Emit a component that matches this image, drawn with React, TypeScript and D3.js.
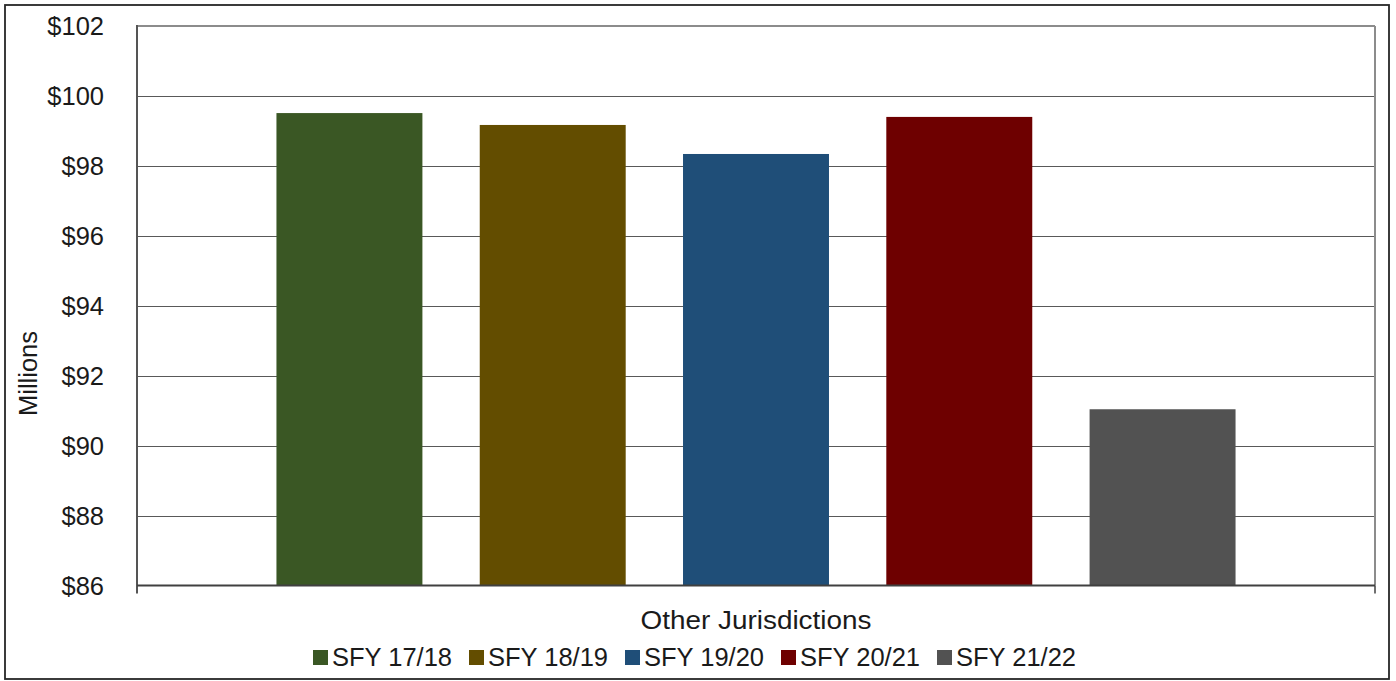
import React from "react";
import * as d3 from "d3";

const categories = ["Other Jurisdictions"];
const seriesNames = ["SFY 17/18", "SFY 18/19", "SFY 19/20", "SFY 20/21", "SFY 21/22"];
const seriesValues = [99.51, 99.17, 98.34, 99.4, 91.04];
const seriesColors = ["#3A5724", "#634D00", "#1F4E78", "#6E0000", "#525252"];
const yTicks = [86, 88, 90, 92, 94, 96, 98, 100, 102];
const yLabel = "Millions";

const W = 1396;
const H = 681;
const plot = { left: 137, right: 1375, top: 26, bottom: 585.5 };
const FONT = "'Century Gothic', 'URW Gothic', 'Liberation Sans', Arial, sans-serif";

export default function App() {
  const y = d3.scaleLinear().domain([86, 102]).range([plot.bottom, plot.top]);
  const x = d3
    .scaleBand<string>()
    .domain(seriesNames)
    .range([plot.left, plot.right])
    .paddingInner(0.282)
    .paddingOuter(0.686);
  const fmt = (v: number) => "$" + d3.format("d")(v);

  const legendX0 = 313;
  const legendStep = 156;

  return (
    <svg
      width={W}
      height={H}
      style={{ position: "absolute", left: 0, top: 0, display: "block", background: "#fff" }}
      fontFamily={FONT}
    >
      <rect x={0} y={0} width={W} height={H} fill="#fff" />
      {/* outer chart border */}
      <rect x={5} y={5} width={1384} height={674} fill="none" stroke="#262626" strokeWidth={1.8} />

      {/* gridlines */}
      {yTicks.slice(1, -1).map((t) => (
        <line
          key={t}
          x1={plot.left}
          x2={plot.right}
          y1={Math.round(y(t)) + 0.5}
          y2={Math.round(y(t)) + 0.5}
          stroke="#595959"
          strokeWidth={1.2}
        />
      ))}

      {/* plot area border top/right */}
      <line x1={plot.left} x2={plot.right} y1={plot.top} y2={plot.top} stroke="#8c8c8c" strokeWidth={2} />
      <line x1={plot.right} x2={plot.right} y1={plot.top} y2={plot.bottom} stroke="#8c8c8c" strokeWidth={2} />

      {/* bars */}
      {seriesNames.map((s, i) => (
        <rect
          key={s}
          x={x(s)}
          y={y(seriesValues[i])}
          width={x.bandwidth()}
          height={y(86) - y(seriesValues[i])}
          fill={seriesColors[i]}
        />
      ))}

      {/* axes */}
      <line x1={plot.left} x2={plot.left} y1={plot.top - 1} y2={plot.bottom + 8} stroke="#555" strokeWidth={2} />
      <line x1={plot.left} x2={plot.right} y1={plot.bottom} y2={plot.bottom} stroke="#404040" strokeWidth={2} />
      <line x1={plot.right} x2={plot.right} y1={plot.bottom} y2={plot.bottom + 8} stroke="#404040" strokeWidth={1.5} />

      {/* y tick labels */}
      {yTicks.map((t) => (
        <text
          key={t}
          x={104}
          y={y(t)}
          dy="0.36em"
          textAnchor="end"
          fontSize={25.5}
          fill="#1a1a1a"
        >
          {fmt(t)}
        </text>
      ))}

      {/* y axis title */}
      <text
        transform={`translate(37, ${373.5}) rotate(-90)`}
        textAnchor="middle"
        fontSize={25.5}
        fill="#1a1a1a"
      >
        {yLabel}
      </text>

      {/* category label */}
      {categories.map((c) => (
        <text
          key={c}
          x={(plot.left + plot.right) / 2 - 115.5}
          y={629}
          fontSize={25.5}
          fill="#1a1a1a"
          textLength={231}
          lengthAdjust="spacingAndGlyphs"
        >
          {c}
        </text>
      ))}

      {/* legend */}
      {seriesNames.map((s, i) => (
        <g key={s} transform={`translate(${legendX0 + i * legendStep}, 650)`}>
          <rect x={0} y={0} width={15} height={15} fill={seriesColors[i]} />
          <text x={19} y={15.5} fontSize={25.5} fill="#1a1a1a">
            {s}
          </text>
        </g>
      ))}
    </svg>
  );
}
